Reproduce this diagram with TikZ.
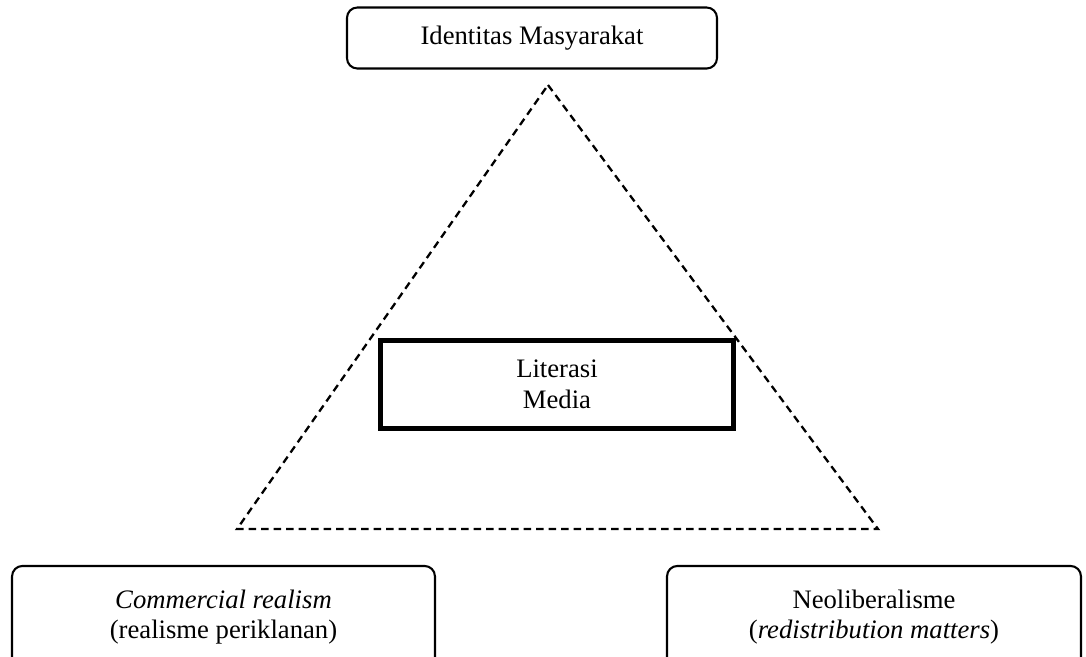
\documentclass[tikz,border=0pt]{standalone}
\usepackage{fontspec}
\setmainfont{Liberation Serif}

\begin{document}
\begin{tikzpicture}[x = 0.48pt, y = -0.48pt,
	box/.style = {draw, rounded corners = 5pt, line width = 1pt, align = center, font = \fontsize{12.8}{14.6}\selectfont},
	mainbox/.style = {draw, line width = 2.5pt, align = center, font = \fontsize{12.8}{14.6}\selectfont}]
	\clip (0,0) rectangle (1086,657);
	% triangle
	\coordinate (top) at (548,85);
	\coordinate (left) at (237,529);
	\coordinate (right) at (878,529);
	\draw[dash pattern = on 3.6pt off 2.4pt, line width = 1.1pt] (top) -- (right) -- (left) -- cycle;
	% boxes
	\node[box, minimum width = 177.6pt, minimum height = 29.3pt] (identitas) at (532,38) {Identitas Masyarakat};
	\node[mainbox, fill = white, minimum width = 169.5pt, minimum height = 42.3pt] (literasi) at (557,384.5) {Literasi\\Media};
	\node[box, minimum width = 203pt, minimum height = 49pt] (commercial) at (223.5,617) {\textit{Commercial realism}\\(realisme periklanan)};
	\node[box, minimum width = 198.7pt, minimum height = 49pt] (neolib) at (874,617) {Neoliberalisme\\(\textit{redistribution matters})};
\end{tikzpicture}
\end{document}
